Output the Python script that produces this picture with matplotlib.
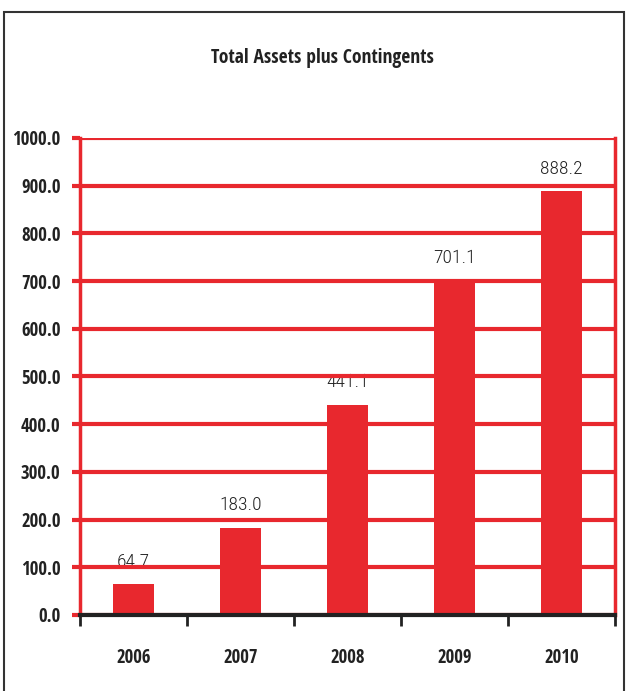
import matplotlib.pyplot as plt
import numpy as np
from matplotlib.patches import Rectangle

years = ["2006", "2007", "2008", "2009", "2010"]
values = [64.7, 183.0, 441.1, 701.1, 888.2]
yticks = [0, 100, 200, 300, 400, 500, 600, 700, 800, 900, 1000]

red = "#e8282e"
ink = "#222222"
font = ["Open Sans Condensed", "Carlito", "DejaVu Sans"]
light = ["Roboto Condensed", "Carlito", "DejaVu Sans"]

fig = plt.figure(figsize=(6.27, 6.91), dpi=100)
ax = fig.add_axes([0.1276, 0.110, 0.8534, 0.6903])

x = np.arange(len(years))
ax.bar(x, values, width=0.39, color=red, zorder=3)
for xi, v in zip(x, values):
    ax.text(xi, v + 28, "%.1f" % v, ha="center", va="bottom", fontsize=14,
            family=light, fontweight="light", color=ink, zorder=1)

ax.set_xlim(-0.5, len(years) - 0.5)
ax.set_ylim(0, 1000)
ax.set_yticks(yticks)
ax.set_yticklabels(["%.1f" % t for t in yticks], family=font,
                   fontweight="bold", fontsize=13.5, color=ink)
ax.yaxis.grid(True, color=red, linewidth=3, zorder=2)
ax.set_axisbelow(False)
for gl in ax.get_ygridlines():
    gl.set_zorder(2)
ax.tick_params(axis="y", colors=red, width=3, length=6, pad=8,
               labelcolor=ink)

ax.set_xticks(np.arange(-0.5, len(years), 1.0))
ax.set_xticklabels([])
ax.set_xticks(x, minor=True)
ax.set_xticklabels(years, minor=True, family=font, fontweight="bold",
                   fontsize=13.5, color=ink)
ax.tick_params(axis="x", which="major", direction="out", length=8, width=2,
               color=ink)
ax.tick_params(axis="x", which="minor", length=0, pad=24)

ax.spines["top"].set_visible(False)
for s in ["left", "right"]:
    ax.spines[s].set_color(red)
    ax.spines[s].set_linewidth(2.5)
ax.spines["bottom"].set_color(ink)
ax.spines["bottom"].set_linewidth(3)
ax.spines["bottom"].set_zorder(4)

fig.text(0.514, 0.916, "Total Assets plus Contingents", ha="center",
         va="center", family=font, fontweight="bold", fontsize=14,
         color=ink)

fig.patches.append(Rectangle((4 / 627, -0.05), 620 / 627, 1.05 - 12 / 691,
                             transform=fig.transFigure, fill=False,
                             edgecolor="#333333", linewidth=1.5))

fig.savefig("out.png", dpi=100)
